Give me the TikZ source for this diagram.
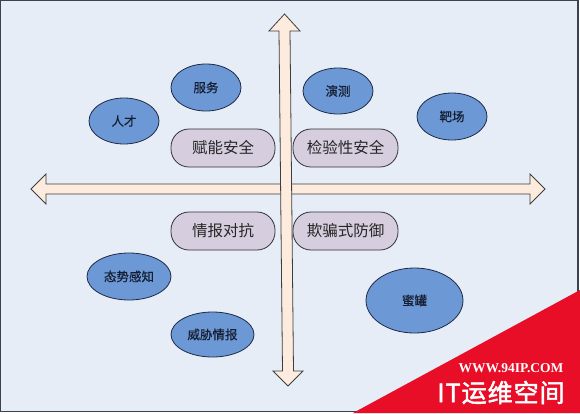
\documentclass[tikz,border=0pt]{standalone}
\usepackage{fontspec}
\setmainfont{Noto Sans CJK SC}
\newfontfamily\blobfont[FakeBold=0.6]{Noto Sans CJK SC}
\newfontfamily\wmfont{Liberation Serif}
\newfontfamily\wmcjk[FakeBold=2,LetterSpace=4]{Noto Sans CJK SC}
\usetikzlibrary{shapes.geometric}
\definecolor{bgblue}{RGB}{230,237,247}
\definecolor{frameline}{RGB}{58,66,80}
\definecolor{blobfill}{RGB}{108,152,214}
\definecolor{blobline}{RGB}{30,42,68}
\definecolor{blobtext}{RGB}{22,30,50}
\definecolor{pillfill}{RGB}{214,205,222}
\definecolor{pillline}{RGB}{50,50,56}
\definecolor{pilltext}{RGB}{38,38,38}
\definecolor{arrowfill}{RGB}{253,236,222}
\definecolor{arrowline}{RGB}{62,62,62}
\definecolor{wmred}{RGB}{232,14,40}

\begin{document}
\begin{tikzpicture}[x=1pt,y=-1pt]
\tikzset{
  shp/.style={line width=0.8pt},
  shapeBlob/.style={shp,ellipse,draw=blobline,fill=blobfill,inner sep=0pt,
    minimum width=70pt,minimum height=46pt,text=blobtext,
    font=\blobfont\fontsize{12.5}{13}\selectfont},
  shapePill/.style={shp,rectangle,draw=pillline,fill=pillfill,rounded corners=18pt,
    minimum width=104pt,minimum height=38pt,text=pilltext,
    font=\fontsize{15.5}{16}\selectfont},
  shapeArrow/.style={shp,draw=arrowline,fill=arrowfill,line join=miter},
  wmlbl/.style={text=white,inner sep=0pt},
}

\useasboundingbox (0,0) rectangle (580,413);
\draw[frameline,fill=bgblue,line width=1.2pt] (0.8,0.8) rectangle (578,411.2);

%% Horizontal arrow
\draw[shapeArrow] (31,189) -- (46,174) -- (46,184) -- (530,184) -- (530,174) -- (545,189)
  -- (530,204) -- (530,194) -- (46,194) -- (46,204) -- cycle;
%% Vertical arrow
\draw[shapeArrow] (284.5,14) -- (300,31) -- (290,31) -- (293.5,371) -- (303,371) -- (288,386)
  -- (273,371) -- (282.5,371) -- (279,31) -- (269,31) -- cycle;

%% Upper left
\node[shapeBlob] (ren) at (124,121) {人才};
\node[shapeBlob,minimum height=47pt] (fuwu) at (206,87.5) {服务};
\node[shapePill] (funeng) at (223,148) {赋能安全};

%% Upper right
\node[shapeBlob] (yance) at (338,91) {演测};
\node[shapeBlob,minimum height=47pt] (bachang) at (452,116.5) {靶场};
\node[shapePill,minimum width=105pt] (jianyan) at (345.5,148) {检验性安全};

%% Lower left
\node[shapePill] (qingbao) at (223,231) {情报对抗};
\node[shapeBlob,minimum width=84pt,minimum height=47pt] (taishi) at (129,276.5) {态势感知};
\node[shapeBlob,minimum width=83pt,minimum height=45pt] (weixie) at (212.5,334.5) {威胁情报};

%% Lower right
\node[shapePill,minimum width=105pt] (qipian) at (345.5,231) {欺骗式防御};
\node[shapeBlob,minimum width=97pt,minimum height=65pt] (miguan) at (414.5,300.5) {蜜罐};

%% Watermark
\fill[wmred] (353,413) -- (580,290) -- (580,413) -- cycle;
\node[wmlbl,font=\wmfont\bfseries\fontsize{13.5}{14}\selectfont] (wmurl) at (511,368.5) {WWW.94IP.COM};
\node[wmlbl,font=\wmcjk\fontsize{25}{26}\selectfont] (wmname) at (501,392.5) {IT运维空间};
\end{tikzpicture}
\end{document}
